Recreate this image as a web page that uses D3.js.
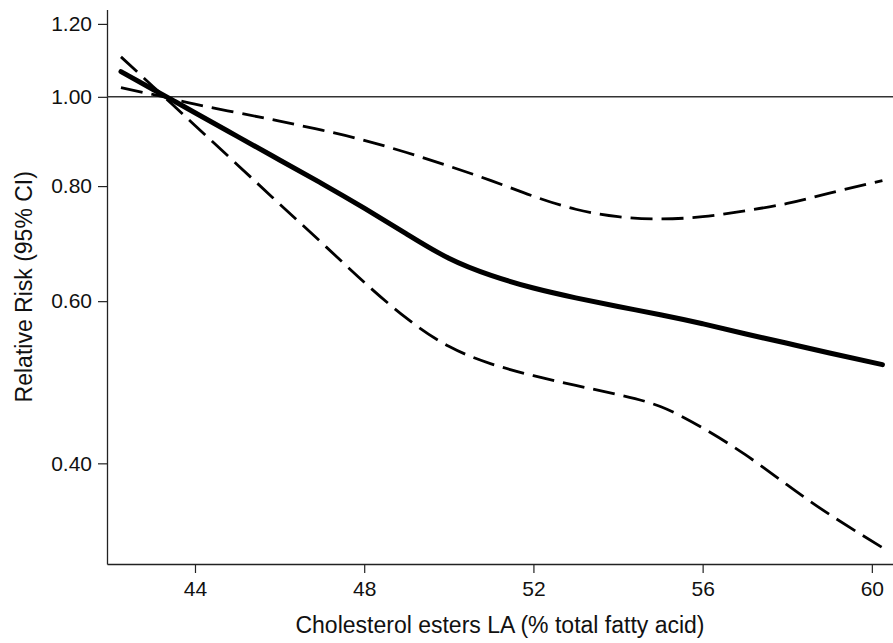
<!DOCTYPE html>
<html>
<head>
<meta charset="utf-8">
<script src="https://cdn.jsdelivr.net/npm/d3@7"></script>
<style>
  body { margin: 0; background: #fff; }
  svg { display: block; font-family: "Liberation Sans", Arial, sans-serif; }
</style>
</head>
<body>
<div id="chart"></div>
<script>
// values
const xPoints = [42.25, 43, 43.5, 44, 45, 46, 47, 48, 49, 50, 51, 52, 53, 54, 55, 56, 57, 58, 59, 60.25];
const rrEstimate = [1.065, 1.019, 0.99, 0.961, 0.906, 0.854, 0.805, 0.757, 0.710, 0.668, 0.640, 0.620, 0.605, 0.592, 0.580, 0.567, 0.553, 0.540, 0.527, 0.512];
const rrUpper = [1.023, 1.006, 0.994, 0.982, 0.961, 0.941, 0.920, 0.897, 0.870, 0.841, 0.811, 0.780, 0.755, 0.741, 0.737, 0.741, 0.752, 0.766, 0.786, 0.811];
const rrLower = [1.105, 1.027, 0.978, 0.931, 0.844, 0.765, 0.694, 0.629, 0.575, 0.536, 0.513, 0.498, 0.486, 0.475, 0.461, 0.437, 0.409, 0.379, 0.352, 0.324];
const xTicks = [44, 48, 52, 56, 60];
const yTicks = [0.4, 0.6, 0.8, 1.0, 1.2];
const refValue = 1.0;

const width = 893, height = 643;
const plotLeft = 107, plotRight = 893, plotTop = 9.5, plotBottom = 564;

const svg = d3.select("#chart").append("svg")
  .attr("width", width)
  .attr("height", height);

const x = d3.scaleLinear().domain([41.92, 60.5]).range([plotLeft, plotRight]);
const y = d3.scaleLog().domain([0.311, 1.244]).range([plotBottom, plotTop]);

// axes
const xAxis = svg.append("g")
  .attr("transform", `translate(0,${plotBottom})`)
  .call(d3.axisBottom(x).tickValues(xTicks).tickFormat(d3.format("d")).tickSize(9).tickSizeOuter(0).tickPadding(8));

const yAxis = svg.append("g")
  .attr("transform", `translate(${plotLeft},0)`)
  .call(d3.axisLeft(y).tickValues(yTicks).tickFormat(d3.format(".2f")).tickSize(9).tickSizeOuter(0).tickPadding(6));

[xAxis, yAxis].forEach(g => {
  g.select(".domain").attr("stroke", "#222").attr("stroke-width", 1.3);
  g.selectAll(".tick line").attr("stroke", "#222").attr("stroke-width", 1.2);
  g.selectAll("text").attr("fill", "#111").style("font-size", "21px")
    .style("font-family", "'Liberation Sans', Arial, sans-serif");
});

// reference line at RR = 1
svg.append("line")
  .attr("x1", plotLeft).attr("x2", plotRight)
  .attr("y1", y(refValue)).attr("y2", y(refValue))
  .attr("stroke", "#333").attr("stroke-width", 1.5);

const line = vals => d3.line()
  .x((d, i) => x(xPoints[i]))
  .y(d => y(d))
  .curve(d3.curveNatural)(vals);

svg.append("path")
  .attr("d", line(rrUpper))
  .attr("fill", "none").attr("stroke", "#000")
  .attr("stroke-width", 2.8).attr("stroke-dasharray", "22,9");

svg.append("path")
  .attr("d", line(rrLower))
  .attr("fill", "none").attr("stroke", "#000")
  .attr("stroke-width", 2.8).attr("stroke-dasharray", "22,9");

svg.append("path")
  .attr("d", line(rrEstimate))
  .attr("fill", "none").attr("stroke", "#000")
  .attr("stroke-width", 5).attr("stroke-linecap", "round");

// axis titles
svg.append("text")
  .attr("x", (plotLeft + plotRight) / 2).attr("y", 633)
  .attr("text-anchor", "middle")
  .style("font-size", "23px").attr("fill", "#111")
  .text("Cholesterol esters LA (% total fatty acid)");

svg.append("text")
  .attr("transform", `translate(32,${(plotTop + plotBottom) / 2}) rotate(-90)`)
  .attr("text-anchor", "middle")
  .style("font-size", "23px").attr("fill", "#111")
  .text("Relative Risk (95% CI)");
</script>
</body>
</html>
